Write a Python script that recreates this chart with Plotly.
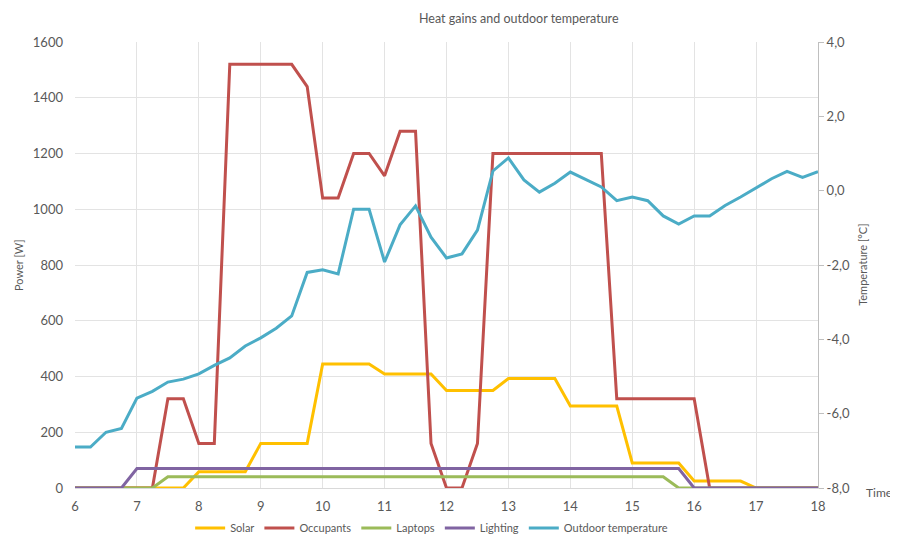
import plotly.graph_objects as go

# Time in hours (15-minute steps, 6:00 to 18:00)
time = [6 + 0.25 * i for i in range(49)]

solar = [0, 0, 0, 0, 0, 0, 0, 0,          # 6.00-7.75
         58, 58, 58, 58,                  # 8.00-8.75
         160, 160, 160, 160,              # 9.00-9.75
         445, 445, 445, 445,              # 10.00-10.75
         409, 409, 409, 409,              # 11.00-11.75
         350, 350, 350, 350,              # 12.00-12.75
         393, 393, 393, 393,              # 13.00-13.75
         294, 294, 294, 294,              # 14.00-14.75
         90, 90, 90, 90,                  # 15.00-15.75
         25, 25, 25, 25,                  # 16.00-16.75
         0, 0, 0, 0, 0]                   # 17.00-18.00

occupants = [0, 0, 0, 0, 0, 0,                        # 6.00-7.25
             320, 320, 160, 160,                      # 7.50-8.25
             1520, 1520, 1520, 1520, 1520, 1440,      # 8.50-9.75
             1040, 1040, 1200, 1200, 1120, 1280, 1280,  # 10.00-11.50
             160, 0, 0, 160,                          # 11.75-12.50
             1200, 1200, 1200, 1200, 1200, 1200, 1200, 1200,  # 12.75-14.50
             320, 320, 320, 320, 320, 320,            # 14.75-16.00
             0, 0, 0, 0, 0, 0, 0, 0]                  # 16.25-18.00

laptops = [0, 0, 0, 0, 0, 0,                          # 6.00-7.25
           40, 40, 40, 40, 40, 40, 40, 40, 40, 40, 40,  # 7.50-10.00
           40, 40, 40, 40, 40, 40, 40, 40, 40, 40, 40,  # 10.25-12.75
           40, 40, 40, 40, 40, 40, 40, 40, 40, 40, 40,  # 13.00-15.50
           0, 0, 0, 0, 0, 0, 0, 0, 0, 0]              # 15.75-18.00

lighting = [0, 0, 0, 0,                               # 6.00-6.75
            70, 70, 70, 70, 70, 70, 70, 70, 70, 70, 70, 70,  # 7.00-9.75
            70, 70, 70, 70, 70, 70, 70, 70, 70, 70, 70, 70,  # 10.00-12.75
            70, 70, 70, 70, 70, 70, 70, 70, 70, 70, 70, 70,  # 13.00-15.75
            0, 0, 0, 0, 0, 0, 0, 0, 0]                # 16.00-18.00

outdoor_temp = [-6.9, -6.9, -6.5, -6.4, -5.58, -5.4, -5.15, -5.07,
                -4.93, -4.7, -4.5, -4.18, -3.96, -3.7, -3.37, -2.2,
                -2.13, -2.24, -0.5, -0.5, -1.92, -0.92, -0.41, -1.25,
                -1.81, -1.7, -1.06, 0.53, 0.88, 0.29, -0.04, 0.2,
                0.5, 0.29, 0.1, -0.27, -0.17, -0.27, -0.68, -0.9,
                -0.68, -0.68, -0.4, -0.17, 0.07, 0.32, 0.52, 0.36, 0.51]

left_ticks = [0, 200, 400, 600, 800, 1000, 1200, 1400, 1600]
right_ticks = [-8, -6, -4, -2, 0, 2, 4]
right_ticktext = ["-8,0", "-6,0", "-4,0", "-2,0", "0,0", "2,0", "4,0"]
x_ticks = list(range(6, 19))

FONT = "Lato"
GREY = "#595959"

fig = go.Figure()
series = [("Solar", solar, "#FFC000"),
          ("Occupants", occupants, "#C0504D"),
          ("Laptops", laptops, "#9BBB59"),
          ("Lighting", lighting, "#8064A2")]
for name, vals, col in series:
    fig.add_trace(go.Scatter(x=time, y=vals, name=name, mode="lines",
                             line=dict(color=col, width=3)))
fig.add_trace(go.Scatter(x=time, y=outdoor_temp, name="Outdoor temperature",
                         mode="lines", yaxis="y2",
                         line=dict(color="#4BACC6", width=3)))

# page body adds an 8px margin, so the figure is sized to the remaining space
fig.update_layout(
    width=890, height=529,
    margin=dict(l=67, r=80, t=34, b=49, autoexpand=False),
    paper_bgcolor="white", plot_bgcolor="white",
    font=dict(family=FONT, color=GREY, size=12),
    showlegend=True,
    legend=dict(orientation="h", x=0.48, xanchor="center", y=-0.057, yanchor="top",
                font=dict(size=11, color=GREY), itemwidth=30, tracegroupgap=0),
    xaxis=dict(range=[6, 18], tickvals=x_ticks, showgrid=True, gridcolor="#E3E3E3",
               zeroline=False, showline=True, linecolor="#D9D9D9", ticks="",
               ticklabelstandoff=6, tickfont=dict(size=13, color=GREY)),
    yaxis=dict(range=[0, 1600], tickvals=left_ticks, showgrid=True, gridcolor="#E3E3E3",
               zeroline=False, showline=False, ticks="", ticklabelstandoff=11,
               tickfont=dict(size=13, color=GREY)),
    yaxis2=dict(range=[-8, 4], tickvals=right_ticks, ticktext=right_ticktext,
                overlaying="y", side="right", showgrid=False, zeroline=False,
                showline=True, linecolor="#BFBFBF", ticks="outside", ticklen=5,
                tickcolor="#BFBFBF", tickfont=dict(size=13, color=GREY)),
    annotations=[
        dict(text="Heat gains and outdoor temperature", x=0.5976, xref="paper",
             y=1 + 24 / 446, yref="paper", showarrow=False,
             font=dict(size=12.5, color=GREY), xanchor="center", yanchor="middle"),
        dict(text="Power [W]", x=-0.0767, xref="paper", y=0.5, yref="paper",
             textangle=-90, showarrow=False, font=dict(size=11, color=GREY),
             xanchor="center", yanchor="middle"),
        dict(text="Temperature [°C]", x=1.059, xref="paper", y=0.5, yref="paper",
             textangle=-90, showarrow=False, font=dict(size=11, color=GREY),
             xanchor="center", yanchor="middle"),
        dict(text="Time", x=1.0, xref="paper", y=-0.011, yref="paper",
             showarrow=False, font=dict(size=12, color=GREY),
             xanchor="left", yanchor="middle", xshift=46),
    ],
)

fig.write_html("out.html")
